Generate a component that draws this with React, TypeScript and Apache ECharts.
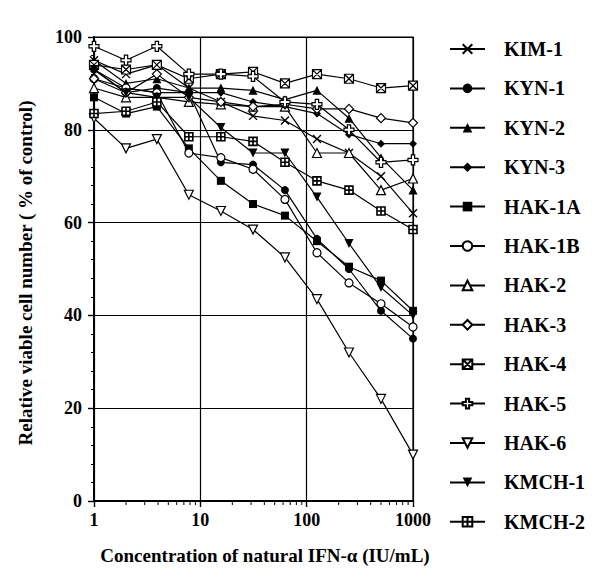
import React, { useEffect, useRef } from "react";
import * as echarts from "echarts";

const doses = [1, 2, 3.9, 7.8, 15.6, 31.3, 62.5, 125, 250, 500, 1000];

const seriesNames = [
  "KIM-1", "KYN-1", "KYN-2", "KYN-3", "HAK-1A", "HAK-1B", "HAK-2",
  "HAK-3", "HAK-4", "HAK-5", "HAK-6", "KMCH-1", "KMCH-2",
];

const KIM1 = [95, 92, 94, 89, 86, 83, 82, 78, 75, 70, 62];
const KYN1 = [93, 88, 89, 88, 73, 72.5, 67, 56.5, 50, 41, 35];
const KYN2 = [95, 90, 91, 89, 89, 88.5, 86.5, 88.5, 82.5, 74, 67];
const KYN3 = [93, 89, 88, 88, 88, 86, 85, 83.5, 79, 77, 77];
const HAK1A = [87, 83.5, 85, 76, 69, 64, 61.5, 56, 50.5, 47.5, 41];
const HAK1B = [91, 89, 88, 75, 74, 71.5, 65, 53.5, 47, 42.5, 37.5];
const HAK2 = [89, 87, 87, 86, 85.5, 85, 85, 75, 75, 67, 69.5];
const HAK3 = [91, 88, 92, 87, 86, 85, 85.5, 84.5, 84.5, 82.5, 81.5];
const HAK4 = [94, 93, 94, 91, 92, 92.5, 90, 92, 91, 89, 89.5];
const HAK5 = [98, 95, 98, 92, 92, 91.5, 86, 85.5, 80, 73, 73.5];
const HAK6 = [82.5, 76, 78, 66, 62.5, 58.5, 52.5, 43.5, 32, 22, 10];
const KMCH1 = [93, 88, 87, 87, 80.5, 75, 75, 65.5, 55.5, 46, 40];
const KMCH2 = [83.5, 84, 86, 78.5, 78.5, 77.5, 73, 69, 67, 62.5, 58.5];

const seriesValues = [KIM1, KYN1, KYN2, KYN3, HAK1A, HAK1B, HAK2, HAK3, HAK4, HAK5, HAK6, KMCH1, KMCH2];

const xTickLabels: Record<string, string> = { "1": "1", "10": "10", "100": "100", "1000": "1000" };
const yTickValues = [0, 20, 40, 60, 80, 100];
const xMinorTicks = [2, 3, 4, 5, 6, 7, 8, 9, 20, 30, 40, 50, 60, 70, 80, 90, 200, 300, 400, 500, 600, 700, 800, 900];

const xTitle = "Concentration of natural IFN-\u03b1 (IU/mL)";
const yTitle = "Relative viable cell number ( % of control)";

const FONT = '"Liberation Serif", "Times New Roman", serif';

const SYM_X = "path://M0,0L10,10M10,0L0,10";
const SYM_BOXX = "path://M0,0L10,0L10,10L0,10ZM0,0L10,10M10,0L0,10";
const SYM_PLUS = "path://M4,0L8,0L8,4L12,4L12,8L8,8L8,12L4,12L4,8L0,8L0,4L4,4Z";
const SYM_DOWN = "path://M0,0L10,0L5,9Z";
const SYM_BOXPLUS = "path://M0,0L10,0L10,10L0,10ZM5,0L5,10M0,5L10,5";

type Sym = { symbol: string; size: number; open: boolean; bw?: number };
const symbols: Sym[] = [
  { symbol: SYM_X, size: 8, open: false, bw: 1.4 },
  { symbol: "circle", size: 8, open: false },
  { symbol: "triangle", size: 9, open: false },
  { symbol: "diamond", size: 8, open: false },
  { symbol: "rect", size: 8, open: false },
  { symbol: "circle", size: 8, open: true },
  { symbol: "triangle", size: 9, open: true },
  { symbol: "diamond", size: 9, open: true },
  { symbol: SYM_BOXX, size: 9, open: true },
  { symbol: SYM_PLUS, size: 10, open: true },
  { symbol: SYM_DOWN, size: 9, open: true },
  { symbol: SYM_DOWN, size: 9, open: false },
  { symbol: SYM_BOXPLUS, size: 8, open: true, bw: 1.6 },
];

export default function App() {
  const ref = useRef<HTMLDivElement>(null);
  useEffect(() => {
    if (!ref.current) return;
    const chart = echarts.init(ref.current, null, { renderer: "svg" });
    const lineSeries = seriesNames.map((name, i) => {
      const s = symbols[i];
      const isX = s.symbol === SYM_X;
      return {
        name,
        type: "line",
        data: doses.map((d, j) => [d, seriesValues[i][j]]),
        symbol: s.symbol,
        symbolSize: s.size,
        showAllSymbol: true,
        lineStyle: { color: "#000", width: 1.2 },
        itemStyle: {
          color: s.open ? "#fff" : "#000",
          borderColor: "#000",
          borderWidth: s.bw ?? (s.open || isX ? 1.2 : 0),
        },
        emphasis: { disabled: true },
        z: 3,
      };
    });
    const option: any = {
      animation: false,
      grid: { left: 94, right: 183, top: 37, bottom: 69, show: true, borderColor: "#000", borderWidth: 1.2 },
      xAxis: {
        type: "log",
        logBase: 10,
        min: 1,
        max: 1000,
        axisLine: { lineStyle: { color: "#000", width: 2 } },
        axisTick: { show: true, length: 6, lineStyle: { color: "#000", width: 1.4 } },
        axisLabel: {
          color: "#000",
          fontFamily: FONT,
          fontWeight: "bold",
          fontSize: 18,
          margin: 10,
          formatter: (v: number) => xTickLabels[String(Math.round(v))] ?? "",
        },
        splitLine: { show: true, lineStyle: { color: "#000", width: 1.2 } },
      },
      yAxis: {
        type: "value",
        min: 0,
        max: 100,
        interval: 20,
        axisLine: { show: true, lineStyle: { color: "#000", width: 2 } },
        axisTick: { show: true, length: 6, lineStyle: { color: "#000", width: 1.4 } },
        minorTick: { show: true, splitNumber: 5, length: 3, lineStyle: { color: "#000", width: 1 } },
        axisLabel: {
          color: "#000",
          fontFamily: FONT,
          fontWeight: "bold",
          fontSize: 18,
          margin: 12,
          formatter: (v: number) => (yTickValues.includes(v) ? String(v) : ""),
        },
        splitLine: { show: true, lineStyle: { color: "#000", width: 1.2 } },
      },
      legend: {
        orient: "vertical",
        left: 444,
        top: 34,
        itemWidth: 35,
        itemHeight: 12,
        itemGap: 19.4,
        selectedMode: false,
        data: seriesNames,
        textStyle: {
          color: "#000",
          fontFamily: FONT,
          fontWeight: "bold",
          fontSize: 20,
          lineHeight: 20,
          padding: [0, 0, 0, 14],
        },
      },
      graphic: [
        {
          type: "text",
          x: 25,
          y: 273,
          rotation: Math.PI / 2,
          style: { text: yTitle, font: `bold 19px ${FONT}`, fill: "#000", align: "center", verticalAlign: "middle" },
        },
        {
          type: "text",
          x: 265,
          y: 555,
          style: { text: xTitle, font: `bold 19px ${FONT}`, fill: "#000", align: "center", verticalAlign: "middle" },
        },
      ],
      series: [
        ...lineSeries,
        {
          type: "custom",
          name: "minorTicks",
          silent: true,
          clip: false,
          z: 5,
          data: xMinorTicks.map((v) => [v, 0]),
          renderItem: (params: any, api: any) => {
            const p = api.coord([api.value(0), 0]);
            return {
              type: "line",
              shape: { x1: p[0], y1: p[1], x2: p[0], y2: p[1] + 4 },
              style: { stroke: "#000", lineWidth: 1 },
            };
          },
        },
      ],
    };
    chart.setOption(option);
    return () => chart.dispose();
  }, []);
  return <div ref={ref} style={{ position: "absolute", left: 0, top: 0, width: 596, height: 570 }} />;
}
